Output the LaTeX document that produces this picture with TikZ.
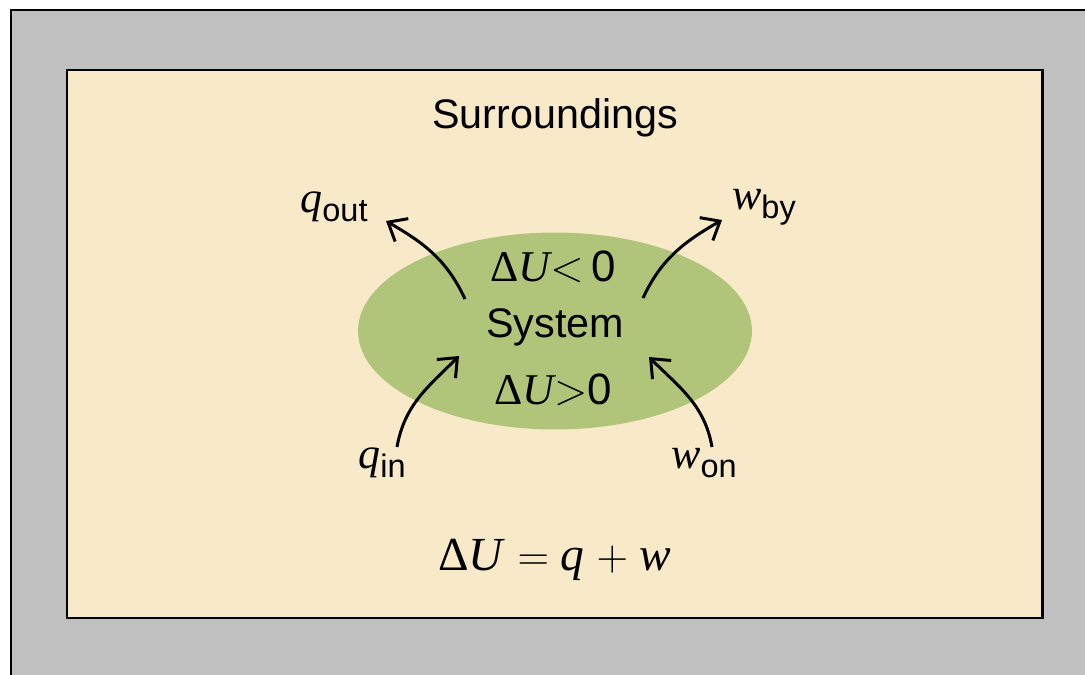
\documentclass[tikz,border=0pt]{standalone}
\usepackage{fontspec}
\setmainfont{Liberation Sans}
\newfontfamily\varfont{Liberation Serif}
\usetikzlibrary{arrows.meta}

\definecolor{framegray}{RGB}{192,192,192}
\definecolor{sandbg}{RGB}{248,234,201}
\definecolor{sysgreen}{RGB}{176,196,122}

% quantity with an upright sans subscript
\newcommand{\quant}[2]{{\varfont\itshape #1}\raisebox{-5pt}{\fontsize{18.5}{20}\selectfont #2}}
\newcommand{\dU}{{\varfont Δ\itshape U}}

\tikzset{
  lbl/.style={inner sep=0pt, font=\fontsize{23.5}{28}\selectfont},
  var/.style={inner sep=0pt, font=\fontsize{25}{30}\selectfont},
  flow/.style={->, line width=1.7pt}
}

\begin{document}
\begin{tikzpicture}[x=0.02cm, y=-0.02cm, >={Straight Barb[length=9pt, width=15pt, line width=1.7pt]}]

    % 1. Frame of the picture (pixel grid, y running down)
    \useasboundingbox (0,0) rectangle (1085,675);
    \clip (0,0) rectangle (1085,675);
    \fill[white] (0,0) rectangle (1085,675);
    \draw[line width=1.2pt, fill=framegray] (11,10) rectangle (1110,700);

    % 2. The surroundings
    \draw[line width=1.7pt, fill=sandbg] (67,70) rectangle (1042,618);
    \node[lbl] (surr) at (555,118) {Surroundings};

    % 3. The system (ellipse)
    \coordinate (C) at (555,331);
    \fill[sysgreen] (C) ellipse [x radius=3.94cm, y radius=1.97cm];
    \node[var] (dUneg) at (553,267) {\dU$<$\,0};
    \node[lbl] (sys) at (555,327) {System};
    \node[var] (dUpos) at (553,390) {\dU$>$0};

    % 4. Heat and work labels
    \node[var] (qout) at (334,207) {\quant{q}{out}};
    \node[var] (wby) at (764,207) {\quant{w}{by}};
    \node[var] (qin) at (382,463) {\quant{q}{in}};
    \node[var] (won) at (704,463) {\quant{w}{on}};

    % 5. Arrow ends
    \coordinate (qo-a) at (465,299);
    \coordinate (qo-b) at (386,221);
    \coordinate (wb-a) at (643,298);
    \coordinate (wb-b) at (722,220);
    \coordinate (qi-a) at (397,447);
    \coordinate (qi-b) at (459,356);
    \coordinate (wo-a) at (712,447);
    \coordinate (wo-b) at (649,357);

    \draw[flow] (qo-a) to[out=115, in=-30] (qo-b);
    \draw[flow] (wb-a) to[out=65, in=210] (wb-b);
    \draw[flow] (qi-a) to[out=80, in=225] (qi-b);
    \draw[flow] (wo-a) to[out=100, in=-45] (wo-b);

    % 6. First law
    \node[var, font=\fontsize{27}{32}\selectfont\varfont] (law) at (555,560) {Δ\textit{U} $=$ \textit{q} $+$ \textit{w}};

  \end{tikzpicture}
\end{document}
